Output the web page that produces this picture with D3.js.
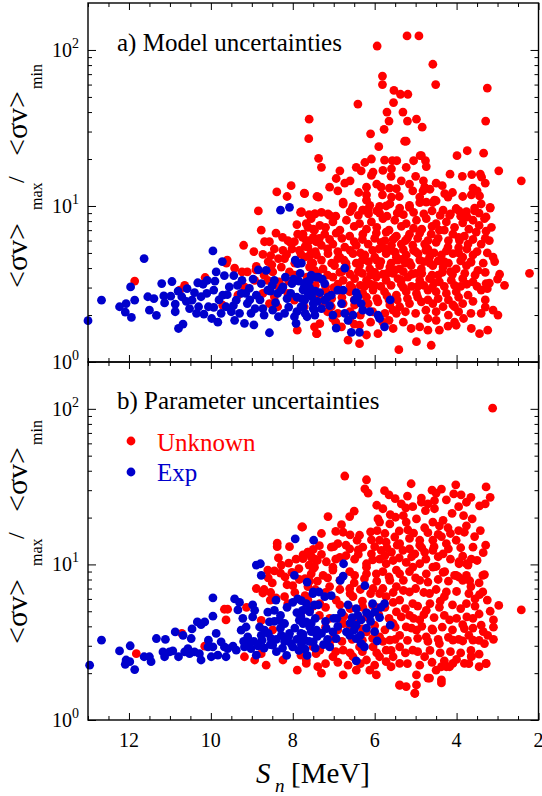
<!DOCTYPE html>
<html>
<head>
<meta charset="utf-8">
<script src="https://cdn.jsdelivr.net/npm/d3@7"></script>
<style>
body { margin: 0; background: #fff; }
svg text { font-family: "Liberation Serif", "Times New Roman", serif; }
</style>
</head>
<body>
<svg id="chart" width="542" height="796"></svg>
<script>

// Tick values and labels
var xMajor = [12, 10, 8, 6, 4, 2];
var yMajor = [1, 10, 100];
var yExponent = ["0", "1", "2"];
var panelTitles = ["a) Model uncertainties", "b) Parameter uncertainties"];
var legendLabels = ["Unknown", "Exp"];
var colors = ["#ff0000", "#0000cc"];

// Panel a, unknown nuclei: [Sn (MeV), <sv>max/<sv>min]
var modelUnknown = [
  [11.86,3.3],[10.76,2.89],[10.64,3.1],[10.14,3.48],[9.71,2.31],[9.6,4.5],[9.62,4.3],[9.42,4.0],[9.24,3.78],[9.2,5.6],
  [9.11,3.78],[8.95,5.1],[8.89,4.1],[8.84,9.3],[8.77,7.0],[8.73,4.9],[8.69,5.9],[8.61,3.34],[8.57,5.9],[8.54,4.8],
  [8.51,4.2],[8.49,3.78],[8.41,6.7],[8.39,12.3],[8.37,2.26],[8.28,4.06],[8.24,5.2],[8.2,4.6],[8.14,11.5],[8.12,6.0],
  [8.08,3.78],[8.04,13.5],[8.02,5.3],[7.96,5.9],[7.89,1.6],[7.88,6.6],[7.84,5.2],[7.81,9.1],[7.76,6.3],[7.72,12.1],
  [7.67,6.0],[7.63,7.3],[7.59,4.8],[7.55,8.3],[7.51,4.3],[7.47,7.0],[7.43,5.9],[7.41,11.5],[7.41,1.52],[7.47,3.87],
  [7.72,2.26],[7.96,2.49],[8.12,2.75],[8.45,2.62],[8.33,3.26],[8.57,2.37],[8.73,2.75],[8.93,3.34],[9.18,3.03],[9.34,2.68],
  [7.47,1.68],
  [5.21,123],[4.92,123],[5.94,106],[4.58,81],[5.81,68],[5.81,60],[4.51,60],[3.25,57],[5.53,55],[5.37,52],
  [5.19,52],[6.41,45],[5.54,46],[5.7,40],[5.31,40],[7.6,36],[5.65,35],[4.98,36],[5.2,35],[3.29,35],
  [4.84,32],[5.77,31],[6.1,29],[7.61,27],[5.27,26],[5.23,26],[5.9,24],[4.89,21],[3.99,21],[3.74,22.6],
  [3.34,21.8],[7.37,20.2],[7.3,17.7],[6.08,20],[6.24,19],[6.45,17.7],[6.33,16.8],[5.76,19.7],[5.57,19.5],[5.46,19.5],
  [5.8,16.9],[5.59,17.3],[5.23,17.7],[5.05,19.5],[4.76,19.5],[4.74,17.9],[4.86,21],[6.85,16.8],[6.94,15],[6.73,14],
  [7.1,13.2],[6.04,16.5],[6.08,15.7],[5.35,14.5],[5.15,13.8],[5.07,12.5],[4.81,14.5],[4.78,13.2],[4.5,14],[4.16,16],
  [3.86,15.5],[3.63,15.9],[3.42,16],[3.39,15.3],[2.97,16.8],[2.42,14.5],[3.6,13],[3.44,11.6],[3.64,11.8],[4.29,12],
  [4.21,11.4],[4.54,10.9],[4.5,10.8],[4.82,12.5],[4.9,11.4],[4.74,10.6],[5.15,9.8],[5.64,13],[5.47,12.9],[5.84,13.2],
  [5.81,11.8],[5.59,11.4],[5.72,10],[5.88,9],[6.39,12.2],[6.2,13.2],[6.2,10.9],[6.29,9.4],[6.16,9.5],[6.55,9.6],
  [6.77,10.6],[7.37,11.4],[7.71,12],[7.79,9.1],[7.46,8.9],[7.14,8.9],[3.94,9.3],[4.01,9.6],[3.74,8.5],[3.56,9.3],
  [3.18,9.7],[4.17,8.7],[3.28,8.5],
  [7.79,9.2],[7.46,8.9],[7.1,8.7],[6.77,10.3],[6.53,9.95],[6.29,9.4],[6.12,10.1],[5.88,9.95],[5.63,10.3],[5.39,9.7],
  [5.15,10.1],[4.9,10.5],[4.58,10.5],[4.33,9.4],[4.01,9.6],[3.76,9.2],[3.56,9.7],[3.4,10.3],[3.18,9.8],
  [7.67,7.7],[7.34,7.5],[7.02,7.9],[6.69,8.1],[6.37,7.7],[6.08,7.9],[5.8,8.3],[5.51,8.1],[5.23,7.7],[4.98,8.1],
  [4.74,8.3],[4.5,7.7],[4.25,7.9],[3.85,7.8],[3.6,8.1],[3.32,8.3],
  [7.75,6.6],[7.5,6.3],[7.22,6.6],[6.94,6.7],[6.61,6.4],[6.29,6.6],[5.96,6.7],[5.72,6.8],[5.47,6.4],[5.15,6.6],
  [4.9,6.7],[4.62,6.6],[4.42,7.0],[4.09,6.6],[3.81,6.4],[3.52,6.8],[3.28,6.9],
  [7.63,5.45],[7.3,5.6],[7.02,5.7],[6.73,5.45],[6.45,5.6],[6.16,5.7],[5.84,5.85],[5.59,5.6],[5.35,5.7],[5.07,5.6],
  [4.78,5.7],[4.5,5.85],[4.21,5.45],[3.93,6.0],[3.72,5.7],[3.4,5.7],[3.2,6.0],
  [7.71,4.7],[7.42,4.85],[7.14,4.95],[6.85,4.7],[6.53,4.95],[6.24,4.85],[6.0,4.7],[5.72,4.95],[5.47,4.7],[5.23,4.85],
  [4.94,4.95],[4.66,4.7],[4.37,4.85],[4.09,4.95],[3.85,4.7],[3.6,4.85],[3.11,4.7],[3.07,4.4],
  [7.59,4.06],[7.26,3.95],[6.98,4.15],[6.69,4.06],[6.37,4.15],[6.12,3.95],[5.88,4.15],[5.63,4.06],[5.39,3.95],[5.11,4.15],
  [4.86,3.95],[4.58,4.15],[4.33,4.06],[4.01,3.95],[3.76,4.15],[3.48,3.87],[2.95,3.65],[2.22,3.7],
  [7.34,3.42],[7.02,3.5],[6.77,3.34],[6.49,3.42],[6.2,3.34],[5.96,3.5],[5.72,3.34],[5.43,3.42],[5.19,3.5],[4.9,3.34],
  [4.66,3.42],[4.42,3.26],[4.13,3.34],[3.85,3.42],[3.6,3.26],[3.28,3.18],[2.83,3.1],[3.2,3.2],
  [7.5,2.75],[7.18,2.82],[6.94,2.89],[6.61,2.82],[6.29,2.75],[6.04,2.89],[5.76,2.82],[5.47,2.68],[5.23,2.82],[4.98,2.75],
  [4.7,2.89],[4.5,2.82],[4.25,2.75],[4.01,2.82],[3.72,2.68],[3.4,2.89],
  [7.26,2.37],[7.06,2.26],[6.77,2.37],[6.49,2.32],[6.16,2.37],[5.92,2.43],[5.63,2.32],[5.39,2.26],[5.15,2.37],[4.86,2.43],
  [4.58,2.37],[4.33,2.26],[4.09,2.32],[3.85,2.37],[3.4,2.05],[3.11,2.15],[2.99,2.0],
  [7.34,1.76],[7.42,1.52],[7.02,1.9],[6.81,1.68],[6.61,1.85],[6.65,1.38],[6.37,1.72],[6.2,1.49],[5.92,1.52],[5.8,1.8],
  [5.55,1.64],[5.47,2.05],[5.11,1.64],[4.98,1.35],[4.9,1.68],[4.7,1.9],[4.7,1.6],[4.62,1.28],[4.42,1.6],[4.21,1.7],
  [4.01,1.72],[3.83,1.9],[3.64,1.64],[3.44,1.52],[3.24,1.6],[5.41,1.2],[6.37,1.31],[4.05,2.26],
  [6.0,3.1],[5.85,4.4],[5.7,3.7],[5.6,5.2],[5.5,3.9],[5.45,4.5],[5.3,3.0],[5.25,4.3],[5.9,5.3],[6.1,3.6],
  [6.3,4.5],[6.4,3.8],[6.55,3.0],[6.7,4.3],[5.0,3.7],[4.8,4.4],[5.05,5.2],[4.95,3.05],[5.35,3.35],[5.65,2.5],
  [6.25,3.05],[6.8,3.8],[7.0,3.0],[6.9,4.6],[5.55,6.1],[5.2,6.2],[4.7,5.3],[4.45,3.6],[4.6,3.0],[4.15,3.8],
  [4.3,4.4],[3.95,5.4],[3.65,4.4],[3.9,3.05],
  [7.6,8.8],[7.3,9.1],[6.95,8.6],[6.6,9.2],[6.4,8.7],[6.15,8.9],[5.95,9.3],[5.7,8.6],[5.45,9.0],[5.3,8.8],
  [5.05,9.1],[4.8,8.9],[4.6,9.3],[4.4,8.7],[4.15,8.9],[3.9,8.6],[3.45,9.0],
  [7.5,7.1],[7.2,7.3],[6.85,7.0],[6.5,7.4],[6.2,7.1],[5.95,7.3],[5.65,7.0],[5.35,7.4],[5.05,7.2],[4.85,7.1],
  [4.6,7.4],[4.3,7.0],[4.05,7.3],[3.7,7.1],[3.45,7.5],[3.15,7.3],
  [7.6,6.0],[7.35,6.2],[7.1,6.1],[6.8,6.2],[6.5,5.9],[6.3,6.1],[6.0,6.2],[5.75,6.0],[5.5,6.3],[5.25,6.0],
  [4.95,6.2],[4.7,6.0],[4.45,6.2],[4.2,6.0],[3.95,6.3],[3.6,6.1],[3.3,6.2],
  [7.45,5.1],[7.15,5.3],[6.9,5.1],[6.6,5.2],[6.35,5.0],[6.05,5.2],[5.75,5.3],[5.5,5.05],[5.3,5.25],[5.0,5.1],
  [4.75,5.2],[4.55,5.0],[4.25,5.15],[3.95,5.0],[3.75,5.3],[3.5,5.1],[3.25,5.0],
  [7.55,4.35],[7.3,4.5],[7.05,4.3],[6.75,4.5],[6.45,4.3],[6.15,4.4],[5.95,4.5],[5.6,4.3],[5.35,4.55],[5.15,4.35],
  [4.9,4.5],[4.65,4.3],[4.45,4.45],[4.2,4.3],[3.9,4.45],[3.65,4.35],[3.35,4.3],
  [7.4,3.7],[7.15,3.6],[6.85,3.75],[6.6,3.65],[6.3,3.7],[6.0,3.75],[5.8,3.65],[5.55,3.7],[5.3,3.8],[5.1,3.65],
  [4.85,3.7],[4.6,3.6],[4.35,3.75],[4.1,3.65],[3.8,3.7],[3.55,3.6],[3.3,3.75],[3.0,3.4],
  [7.45,3.1],[7.2,3.05],[6.9,3.15],[6.6,3.1],[6.35,3.1],[6.1,3.15],[5.85,3.05],[5.6,3.1],[5.35,3.15],[5.1,3.05],
  [4.8,3.1],[4.55,3.2],[4.3,3.05],[4.05,3.1],[3.75,3.15],[3.5,3.05],[3.25,2.95],
  [7.35,2.6],[7.05,2.55],[6.8,2.6],[6.5,2.5],[6.2,2.6],[5.95,2.55],[5.7,2.65],[5.45,2.5],[5.2,2.55],[4.95,2.6],
  [4.7,2.5],[4.45,2.55],[4.2,2.5],[3.95,2.6],[3.6,2.45],[3.3,2.5],
  [7.15,2.1],[6.9,2.05],[6.6,2.1],[6.35,2.0],[6.05,2.1],[5.75,2.05],[5.55,2.15],[5.25,2.1],[5.0,2.05],[4.75,2.15],
  [4.5,2.1],[4.2,2.0],[3.95,2.1],[3.65,2.05],[3.3,2.25],
  [6.95,1.8],[6.5,1.75],[6.1,1.8],[5.65,1.85],[5.3,1.8],[4.5,1.85],[4.05,1.8],
  [8.6,4.4],[8.45,5.3],[8.35,4.6],[8.25,6.3],[8.15,4.9],[8.05,5.8],[7.95,4.3],[7.9,7.6],[7.8,4.9],[7.7,5.5],
  [7.65,3.5],[7.55,5.0],[7.95,3.6],[8.1,3.3],[8.4,3.1],[8.7,3.6],[8.9,3.9],
  [6.9,12.5],[6.6,14.5],[6.2,11.8],[5.95,13.8],[5.6,15.5],[5.4,11.5],[5.0,15.5],[4.65,12.8],[4.35,13.5],[4.1,12.2],
  [3.85,11.5],[3.5,12.5],[3.3,14.0]
];

// Panel a, experimentally known nuclei
var modelExp = [
  [13.0,1.84],[12.67,2.49],[12.23,2.26],[12.07,2.37],[12.09,2.09],[11.94,1.93],[11.86,2.49],[11.96,3.03],[11.63,4.6],[11.54,2.62],
  [11.39,2.55],[11.5,2.15],[11.33,1.99],[11.2,3.18],[11.15,2.65],[11.13,2.39],[10.98,2.64],[10.95,3.28],[10.87,2.35],[10.87,2.1],
  [10.79,1.64],[10.68,1.75],[10.71,2.62],[10.58,2.95],[10.52,2.2],[10.46,2.49],[10.4,2.78],[10.32,3.22],[10.3,2.26],[10.24,2.62],
  [10.19,3.15],[10.17,2.03],[10.09,3.34],[10.06,2.26],[9.95,5.15],[9.93,2.89],[9.93,2.24],[9.87,3.78],[9.83,1.8],[9.98,1.9],
  [9.72,4.4],[9.71,2.68],[9.67,3.58],[9.63,2.26],[9.55,3.03],[9.5,2.1],[9.44,3.58],[9.42,1.85],[9.38,2.49],[9.3,2.05],
  [9.26,2.75],[9.24,3.34],[9.18,1.77],[9.11,2.37],[9.06,2.96],[9.02,2.05],[8.95,1.73],[8.89,2.68],[8.84,3.9],[8.77,3.18],
  [8.73,2.2],[8.65,3.87],[8.61,2.89],[8.57,1.54],[8.49,2.15],[8.45,3.34],[8.37,2.75],[8.3,9.4],[8.24,3.03],[8.2,2.05],
  [8.14,2.55],[8.08,9.8],[8.02,3.18],[7.96,1.95],[7.94,4.5],[7.92,1.77],[7.88,4.27],[7.8,2.26],[7.72,3.03],[7.65,1.95],
  [7.59,3.34],[7.54,2.62],[7.47,2.15],[7.43,3.5],
  [10.8,2.85],[10.6,2.45],[10.35,2.05],[10.1,2.75],[9.9,3.3],[9.8,2.5],[9.75,2.05],[9.6,2.7],[9.45,2.3],[9.35,3.1],
  [9.15,2.75],[9.05,2.5],[8.97,3.4],[8.92,2.2],[8.8,2.5],[8.7,2.0],[8.55,2.85],[8.5,3.1],[8.42,2.4],[8.35,1.95],
  [8.28,2.9],[8.18,3.5],[8.1,2.25],[8.05,2.75],[7.98,3.4],[7.9,2.1],[7.82,3.7],[7.78,2.55],
  [7.79,4.3],[7.67,3.25],[7.71,2.49],[7.75,2.26],[7.59,3.0],[7.5,2.37],[7.46,2.0],[7.38,3.5],[7.34,2.78],[7.22,3.18],
  [7.22,2.49],[7.06,2.68],[7.02,2.0],[6.94,1.65],[6.9,2.89],[6.81,2.37],[6.77,2.89],[6.73,4.0],[6.73,2.05],[6.65,1.85],
  [6.57,1.55],[6.53,2.0],[6.49,2.49],[6.45,2.78],[6.41,2.62],[6.37,1.55],[6.33,2.37],[6.29,2.15],[6.12,2.1],[5.92,2.0],
  [5.88,1.9],[5.76,1.68],[5.62,2.5],
  [7.9,2.6],[7.85,3.3],[7.75,2.9],[7.7,2.05],[7.62,2.7],[7.55,3.6],[7.5,2.2],[7.45,2.85],[7.4,2.45],[7.3,2.2],
  [7.28,3.4],[7.15,2.6],[7.1,2.3]
];

// Panel b, unknown nuclei
var paramUnknown = [
  [11.82,2.67],[9.67,5.15],[9.59,5.15],[9.63,4.4],[10.15,2.98],[8.93,2.43],[8.89,7.0],[8.65,2.25],[8.73,6.55],[8.61,9.2],
  [8.54,6.6],[8.45,9.1],[8.41,6.1],[8.38,13.7],[8.38,13.0],[8.28,9.9],[8.24,2.43],[8.19,8.3],[8.14,7.4],[8.08,13.0],
  [8.02,8.9],[8.0,7.3],[7.92,10.8],[7.89,2.09],[7.84,8.0],[7.8,2.61],[7.78,17.4],[7.67,2.31],[7.63,12.0],[7.59,7.8],
  [7.54,11.0],[7.47,9.6],[7.43,2.67],[7.39,2.2],[8.12,5.6],[7.8,4.9],[7.63,5.9],[8.77,4.37],[8.49,3.8],[9.18,2.55],
  [8.77,2.67],[10.11,3.0],[9.13,5.3],[10.71,3.6],
  [6.73,37],[6.2,35],[6.24,30.6],[6.16,28.7],[5.11,33],[5.76,29.8],[5.65,28],[4.02,32.5],[3.28,31.5],[4.37,30.5],
  [4.5,28.7],[4.07,28.4],[3.89,28],[3.18,27],[4.86,26.7],[4.86,25.1],[4.54,25.7],[3.76,25.1],[3.44,23.8],[5.8,22.8],
  [5.24,23.1],[5.07,23.5],[4.76,22.2],[4.54,22.8],[4.11,21.3],[3.83,20.6],[3.62,19.6],[7.14,20.3],[6.61,20.3],[5.92,19.6],
  [5.88,18.7],[5.62,20.9],[5.49,20.1],[5.3,20.6],[4.98,19.6],[4.58,18.7],[4.33,19.2],[7.76,17.4],[6.81,18.0],[6.77,16.1],
  [5.94,16.5],[5.63,18.2],[5.23,18.7],[5.19,16.7],[4.78,17.2],[4.42,17.7],[4.21,17.2],[3.76,17.7],[3.42,16.5],[3.81,16.1],
  [3.56,15.1],[6.37,15.4],[6.43,14.3],[6.08,14.4],[5.88,14.3],[5.72,13.9],[5.51,15.0],[5.39,13.6],[5.15,14.7],[4.9,14.3],
  [4.9,13.3],[4.58,14.3],[4.37,15.1],[4.25,13.6],[4.01,14.3],[3.29,13.3],[7.63,12.0],[7.46,10.8],[7.06,12.9],[6.9,13.6],
  [6.61,12.6],[6.29,12.9],[6.08,11.7],[5.84,12.3],[5.59,12.0],[5.31,12.3],[5.02,11.7],[4.78,12.0],[4.58,12.3],[4.33,11.7],
  [3.64,10.8],[3.72,9.9],[7.18,10.4],[6.85,11.1],[6.49,10.8],[6.2,10.1],[5.88,10.8],[5.55,10.6],[5.23,10.3],[4.9,10.1],
  [4.5,9.7],[4.29,9.0],[3.94,10.4],[3.36,8.5],[7.75,10.9],[7.5,9.4],[7.02,9.2],[6.61,9.0],[6.2,8.7],[5.8,9.0],
  [5.47,9.2],[5.15,9.0],[4.74,8.7],[4.01,8.5],[3.76,8.5],
  [2.42,5.1],[2.97,5.45],[3.18,5.0],[3.32,8.6],[3.36,6.65],[3.44,6.4],[3.4,4.07],[3.24,3.5],[3.32,3.1],[3.76,5.6],
  [3.6,4.5],[3.81,3.87],[3.6,3.26],[3.85,7.9],[3.68,7.85],[4.05,8.5],[3.94,10.1],[3.76,10.1],[4.33,8.9],[4.25,6.65],
  [4.17,4.4],[4.09,3.26],[3.85,3.22],[3.64,2.55],[3.81,2.31],[3.28,2.31],[4.09,2.31],[4.25,2.2],[4.37,2.2],[4.5,2.09],
  [4.7,1.86],[4.37,1.81],[4.98,1.95],[5.02,1.48],[5.39,1.68],[5.23,1.64],[4.98,1.68],[4.78,2.55],[4.42,3.1],[4.58,3.78],
  [4.74,5.07],[4.42,5.3],[4.66,6.5],[4.9,7.9],[5.07,9.6],[4.58,9.6],[5.39,8.7],[5.72,10.1],[5.96,8.7],[6.2,9.6],
  [6.49,8.5],[7.02,9.6],[7.26,8.5],[7.55,8.7],[7.63,7.2],[7.1,7.2],[6.61,7.0],[6.04,7.0],[5.47,7.2],[5.15,6.65],
  [5.72,6.2],[5.39,5.9],[5.07,5.6],[5.96,5.3],[5.47,4.95],[5.15,4.7],[4.9,4.4],[5.55,4.17],[5.23,3.97],[4.98,3.78],
  [4.74,3.42],[5.39,3.5],[5.63,3.26],[5.88,3.42],[6.2,3.69],[6.37,2.95],[6.04,2.95],[5.72,2.81],[5.39,2.95],[5.07,2.81],
  [5.55,2.55],[5.88,2.55],[6.2,2.43],[6.53,2.55],[6.77,2.81],[7.02,2.55],[7.34,2.81],[7.67,2.43],[7.3,2.0],[6.77,1.95],
  [6.45,2.09],[6.12,2.09],[5.72,2.37],[5.39,2.31],[5.96,1.95],[7.5,2.95],[7.1,3.02],[6.77,4.17],[6.94,5.9],[7.34,5.6],
  [6.53,6.2],[6.29,5.3],[5.88,6.5],[5.63,7.9],
  [3.12,101],[3.28,2.3],[3.64,2.57],[4.17,2.2],[4.37,1.73],[4.66,1.86],[5.02,1.49],[5.39,1.67],
  [7.3,15.8],[6.95,16.3],[6.6,15.5],[6.1,16.2],[5.75,15.8],[5.4,16.4],[5.05,15.9],[4.7,16.0],[4.45,15.6],[4.15,15.8],
  [3.95,16.5],
  [7.35,13.2],[7.0,13.0],[6.7,13.3],[6.4,12.4],[6.0,13.0],[5.7,12.8],[5.45,13.3],[5.15,12.6],[4.85,12.8],[4.55,13.0],
  [4.2,12.6],[3.9,12.8],[3.6,12.9],[3.35,11.9],
  [7.55,11.3],[7.3,11.6],[6.95,10.8],[6.7,11.4],[6.4,11.6],[6.05,10.7],[5.75,11.4],[5.4,11.0],[5.1,11.2],[4.75,10.8],
  [4.45,11.2],[4.15,10.8],[3.85,11.3],[3.5,10.6],
  [7.7,8.1],[7.4,7.8],[7.15,8.2],[6.85,7.9],[6.5,7.6],[6.25,8.1],[5.95,7.8],[5.65,8.3],[5.3,7.9],[5.0,8.2],
  [4.7,7.7],[4.45,8.0],[4.2,7.8],[3.95,8.3],[3.65,7.2],[3.45,7.6],
  [7.45,6.9],[7.2,6.6],[6.85,6.9],[6.6,6.5],[6.35,6.9],[6.1,6.5],[5.8,7.0],[5.55,6.6],[5.3,6.8],[5.0,7.0],
  [4.8,6.6],[4.5,6.9],[4.3,6.2],[4.0,6.7],[3.7,6.5],[3.55,6.0],
  [7.5,5.4],[7.2,5.3],[6.85,5.5],[6.6,5.2],[6.3,5.8],[6.05,5.45],[5.75,5.3],[5.55,5.7],[5.25,5.2],[4.95,5.4],
  [4.65,5.6],[4.4,5.8],[4.1,5.5],[3.9,5.2],[3.55,5.4],[3.25,5.9],
  [7.35,4.7],[7.1,4.5],[6.75,4.65],[6.5,4.45],[6.2,4.6],[5.9,4.75],[5.65,4.5],[5.35,4.6],[5.05,4.5],[4.8,4.75],
  [4.55,4.55],[4.3,4.7],[4.0,4.5],[3.75,4.6],[3.45,4.8],[3.1,4.4],
  [7.2,3.95],[6.9,3.8],[6.6,3.95],[6.3,3.85],[6.0,4.05],[5.75,3.8],[5.5,3.95],[5.1,3.9],[4.85,4.0],[4.6,3.85],
  [4.35,3.95],[4.1,3.8],[3.85,4.1],[3.6,3.9],[3.35,3.7],[3.1,3.95],
  [7.05,3.3],[6.8,3.2],[6.55,3.3],[6.3,3.25],[6.05,3.35],[5.8,3.2],[5.5,3.3],[5.2,3.25],[4.95,3.35],[4.7,3.2],
  [4.45,3.3],[4.2,3.4],[3.95,3.3],[3.7,3.5],[3.45,3.25],[3.1,3.3],
  [6.95,2.75],[6.6,2.7],[6.3,2.75],[5.95,2.7],[5.6,2.8],[5.25,2.7],[4.95,2.75],[4.65,2.8],[4.4,2.7],[4.15,2.75],
  [3.9,2.7],[3.65,2.8],[3.45,2.65],
  [7.2,2.3],[6.9,2.35],[6.65,2.25],[6.35,2.3],[6.0,2.25],[5.6,2.2],[5.2,2.3],[4.9,2.25],[4.6,2.35],[4.3,2.4],
  [4.0,2.45],[3.7,2.3],[3.45,2.2],
  [8.55,5.9],[8.5,7.6],[8.3,8.8],[8.2,6.2],[8.1,10.2],[7.95,6.6],[7.85,9.4],[7.75,11.5],[7.7,6.3],[7.6,9.9],
  [7.5,12.5],[7.4,10.6],[8.35,11.0],[8.6,8.2],[8.7,6.9],
  [6.5,22],[5.95,24],[5.5,26.5],[5.2,27.5],[4.7,24.5],[4.25,26],[3.95,23.5],[3.65,27],[3.3,24.5],[4.6,30],
  [5.35,24.5]
];

// Panel b, experimentally known nuclei
var paramExp = [
  [12.96,2.25],[12.67,3.26],[12.23,2.78],[11.97,3.0],[12.07,2.43],[11.98,2.37],[12.09,2.28],[11.86,2.11],[11.63,2.55],[11.5,2.55],
  [11.46,2.37],[11.33,3.34],[11.11,3.3],[11.17,2.74],[11.13,2.55],[11.01,2.74],[10.93,2.78],[10.87,3.68],[10.79,2.55],[10.68,3.5],
  [10.64,2.74],[10.56,2.88],[10.52,2.67],[10.48,3.34],[10.46,3.85],[10.4,2.74],[10.33,4.27],[10.28,2.67],[10.24,4.1],[10.24,2.43],
  [10.15,4.27],[10.07,2.95],[10.06,3.26],[9.99,2.55],[9.95,6.1],[9.95,4.65],[9.95,2.95],[9.87,3.6],[9.83,2.61],[9.75,3.18],
  [9.67,2.95],[9.63,2.55],[9.59,2.88],[9.46,2.98],[9.42,6.0],[9.3,5.7],[9.34,5.1],[9.38,2.81],[9.26,3.78],[9.22,4.5],
  [9.18,2.95],[9.14,3.96],[9.1,3.42],[9.02,2.88],[8.98,5.5],[8.98,4.6],[8.93,5.07],[8.89,2.61],[8.89,9.9],[8.79,10.1],
  [8.77,8.5],[8.81,3.96],[8.77,3.5],[8.69,3.78],[8.61,4.94],[8.57,4.27],[8.53,3.34],[8.49,3.03],[8.45,5.07],[8.41,5.9],
  [8.33,4.37],[8.28,3.5],[8.2,4.17],[8.14,5.3],[8.08,3.6],[8.04,3.1],[8.0,5.7],[7.94,14.6],[7.96,8.5],[7.88,6.0],
  [7.84,4.37],[7.8,3.6],[7.76,5.07],[7.72,3.26],[7.67,4.27],[7.65,7.7],[7.59,5.07],[7.55,4.17],[7.51,6.5],[7.49,14.3],
  [7.47,5.5],[7.43,3.6],
  [6.76,10.1],[6.77,8.4],[6.84,7.9],[6.24,7.3],[7.5,6.65],[7.36,6.65],[7.22,6.2],[7.06,6.3],[7.79,5.85],[7.67,5.6],
  [7.38,5.5],[7.59,4.95],[5.76,5.6],[6.81,4.9],[6.92,4.5],[6.55,4.55],[6.41,4.7],[6.33,4.4],[6.45,4.07],[6.12,4.7],
  [5.88,4.55],[5.62,4.07],[7.75,4.17],[7.59,3.97],[7.42,3.78],[7.18,3.87],[7.02,3.69],[6.94,3.34],[6.69,3.69],[6.61,3.5],
  [6.45,3.34],[6.33,3.1],[5.94,3.22],[7.71,3.26],[7.5,3.18],[7.79,3.05],[6.45,2.4],
  [8.6,3.6],[8.4,3.3],[8.3,3.9],[8.2,3.2],[8.1,3.45],[7.95,3.9],[7.9,3.3],[7.85,2.8],[7.75,3.55],[7.6,3.2],
  [7.55,3.7],[7.45,2.9],[7.4,3.45],[7.3,3.6],[7.25,3.05],[7.15,3.3],[7.1,2.95],[9.2,3.2],[9.1,3.1],[8.95,3.2],
  [8.85,3.0],[8.75,3.25],[8.7,2.9],[8.55,3.05],[8.4,2.75],[8.25,2.9],[8.0,2.95],[8.15,2.6],[7.7,2.85],[7.65,2.6],
  [8.45,4.3],[8.3,4.7],[7.9,4.9],[7.8,4.6],[7.45,4.5],[7.2,4.3],[7.0,4.5],[6.9,4.0],[6.6,4.2],[6.5,3.8],
  [6.35,3.5],[6.2,3.9],[6.0,3.7],[6.1,4.3],[6.2,4.9],[6.45,5.2],[6.65,5.5],[6.05,5.6],[6.0,4.95],[5.85,5.3],
  [6.25,2.95]
];

var left = 88, right = 538.5;
var panels = [
  {top: 3, bottom: 362, unknown: modelUnknown, exp: modelExp, title: panelTitles[0], titleY: 51, labelShift: 0},
  {top: 362, bottom: 720, unknown: paramUnknown, exp: paramExp, title: panelTitles[1], titleY: 409, labelShift: 356}
];

var svg = d3.select("#chart");

// Shared x scale, reversed
var x = d3.scaleLinear().domain([13, 2]).range([left, right]);
var xMinor = d3.range(2.5, 13.01, 0.5).filter(function(d) { return xMajor.indexOf(d) < 0; });

panels.forEach(function(p, i) {

    var y = d3.scaleLog().domain([1, 200]).range([p.bottom, p.top]);
    var yMinor = y.ticks().filter(function(d) { return yMajor.indexOf(d) < 0 && d < 200; });

    var g = svg.append("g");

    // Points: unknown first, exp on top
    [p.unknown, p.exp].forEach(function(data, k) {
        g.append("g")
            .selectAll("circle")
            .data(data)
            .enter()
            .append("circle")
            .attr("cx", function(d) { return x(d[0]); })
            .attr("cy", function(d) { return y(d[1]); })
            .attr("r", 4.4)
            .attr("fill", colors[k]);
    });

    // Inward ticks on all four sides
    var axes = [
        [d3.axisBottom(x), "translate(0," + p.bottom + ")", xMajor, xMinor, 7, 4],
        [d3.axisTop(x), "translate(0," + p.top + ")", xMajor, xMinor, 7, 4],
        [d3.axisLeft(y), "translate(" + left + ",0)", yMajor, yMinor, 8, 4],
        [d3.axisRight(y), "translate(" + right + ",0)", yMajor, yMinor, 8, 4]
    ];
    axes.forEach(function(a) {
        [[a[2], a[4]], [a[3], a[5]]].forEach(function(t) {
            var ax = g.append("g")
                .attr("transform", a[1])
                .call(a[0].tickValues(t[0]).tickSize(-t[1]).tickFormat(""));
            ax.select(".domain").remove();
            ax.selectAll("line").attr("stroke", "#000").attr("stroke-width", 1);
        });
    });

    // Frame
    g.append("rect")
        .attr("x", left).attr("y", p.top)
        .attr("width", right - left).attr("height", p.bottom - p.top)
        .attr("fill", "none").attr("stroke", "#000").attr("stroke-width", 1.4);

    // Y tick labels 10^n
    yMajor.forEach(function(v, j) {
        var t = g.append("text")
            .attr("x", 79)
            .attr("y", y(v) + 7)
            .attr("text-anchor", "end")
            .attr("font-size", 20);
        t.append("tspan").text("10");
        t.append("tspan").attr("font-size", 14).attr("dy", -9).text(yExponent[j]);
    });

    // Panel title
    g.append("text")
        .attr("x", 117).attr("y", p.titleY)
        .attr("font-size", 25)
        .text(p.title);

    // Y axis label, rotated; local x = -screen y, local y = screen x
    var s = p.labelShift;
    var lab = g.append("text").attr("transform", "rotate(-90)");
    lab.append("tspan").attr("x", -(288 + s)).attr("y", 27).attr("font-size", 30).text("<σv>");
    lab.append("tspan").attr("x", -(210 + s)).attr("y", 42).attr("font-size", 16).text("max");
    lab.append("tspan").attr("x", -(183 + s)).attr("y", 24).attr("font-size", 24).text("/");
    lab.append("tspan").attr("x", -(156 + s)).attr("y", 27).attr("font-size", 30).text("<σv>");
    lab.append("tspan").attr("x", -(89 + s)).attr("y", 42).attr("font-size", 16).text("min");
});

// X tick labels
svg.append("g")
    .selectAll("text")
    .data(xMajor)
    .enter()
    .append("text")
    .attr("x", function(d) { return x(d); })
    .attr("y", 747)
    .attr("text-anchor", "middle")
    .attr("font-size", 20)
    .text(function(d) { return d; });

// X axis label
var xl = svg.append("text").attr("y", 783).attr("font-size", 29);
xl.append("tspan").attr("x", 256).attr("font-style", "italic").text("S");
xl.append("tspan").attr("x", 275).attr("y", 792).attr("font-style", "italic").attr("font-size", 19).text("n");
xl.append("tspan").attr("x", 291).attr("y", 783).text("[MeV]");

// Legend in panel b
legendLabels.forEach(function(label, k) {
    svg.append("circle")
        .attr("cx", 131).attr("cy", 441 + k * 31)
        .attr("r", 4.4)
        .attr("fill", colors[k]);
    svg.append("text")
        .attr("x", 157).attr("y", 451 + k * 30)
        .attr("font-size", 25)
        .attr("fill", colors[k])
        .text(label);
});

</script>
</body>
</html>
